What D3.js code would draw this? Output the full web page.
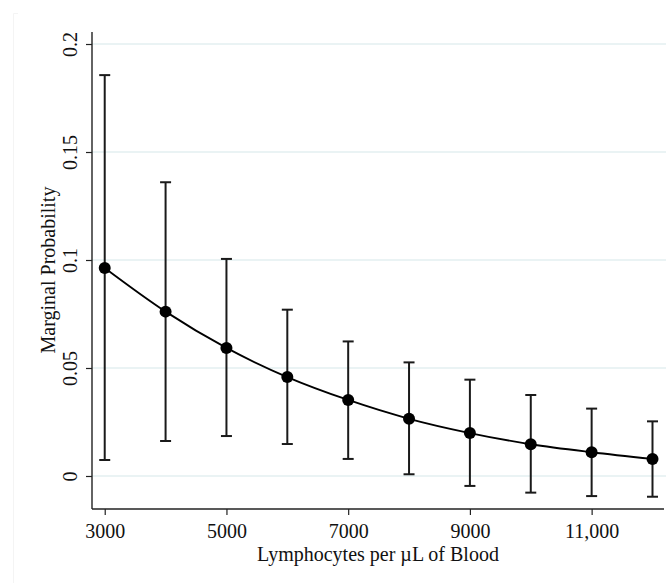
<!DOCTYPE html>
<html><head><meta charset="utf-8">
<script src="https://cdn.jsdelivr.net/npm/d3@7"></script>
<style>html,body{margin:0;padding:0;background:#fff;}svg{display:block;}</style>
</head><body>
<svg id="chart" width="671" height="583"></svg>
<script>
const lymphocytes = [3000, 4000, 5000, 6000, 7000, 8000, 9000, 10000, 11000, 12000];
const probability = [0.0963, 0.0761, 0.0593, 0.0458, 0.0352, 0.0265, 0.0199, 0.0147, 0.0110, 0.0079];
const upperCI = [0.1856, 0.1360, 0.1005, 0.0770, 0.0623, 0.0526, 0.0446, 0.0375, 0.0312, 0.0253];
const lowerCI = [0.0074, 0.0162, 0.0185, 0.0148, 0.0079, 0.0008, -0.0046, -0.0077, -0.0093, -0.0096];
const xTicks = [3000, 5000, 7000, 9000, 11000];
const xTickLabels = ["3000", "5000", "7000", "9000", "11,000"];
const yTicks = [0, 0.05, 0.1, 0.15, 0.2];
const yTickLabels = ["0", "0.05", "0.1", "0.15", "0.2"];
const xTitle = "Lymphocytes per \u00B5L of Blood";
const yTitle = "Marginal Probability";

const svg = d3.select("#chart");
const font = "'Liberation Serif', 'Times New Roman', serif";
const fs = 20;
const L = 92, R = 664, T = 32, B = 509;

const x = d3.scaleLinear().domain([2791, 12189]).range([L, R]);
const y = d3.scaleLinear().domain([-0.01528, 0.20556]).range([B, T]);

// faint outer frame
svg.append("path").attr("d", `M13.5,583 V13.5 H18`).attr("fill", "none").attr("stroke", "#f4f4f4").attr("stroke-width", 1);

// gridlines
svg.append("g").selectAll("line").data(yTicks).join("line")
  .attr("x1", L).attr("x2", 666)
  .attr("y1", d => y(d)).attr("y2", d => y(d))
  .attr("stroke", "#e3eff1").attr("stroke-width", 1.3);

// y axis
const yAxis = d3.axisLeft(y).tickValues(yTicks).tickFormat((d, i) => yTickLabels[i]).tickSize(6).tickPadding(4);
const gy = svg.append("g").attr("transform", `translate(${L},0)`).call(yAxis);
gy.select(".domain").attr("d", `M0,${T}V${B}`).attr("stroke", "#222").attr("stroke-width", 1.4);
gy.selectAll(".tick line").attr("stroke", "#222").attr("stroke-width", 1.2);
gy.selectAll(".tick text")
  .attr("font-family", font).attr("font-size", fs).attr("fill", "#111")
  .attr("text-anchor", "middle").attr("x", null).attr("dy", null)
  .attr("transform", "translate(-22,0) rotate(-90)")
  .attr("dominant-baseline", "central");

// x axis
const xAxis = d3.axisBottom(x).tickValues(xTicks).tickFormat((d, i) => xTickLabels[i]).tickSize(6);
const gx = svg.append("g").attr("transform", `translate(0,${B})`).call(xAxis);
gx.select(".domain").attr("d", `M${L},0H${R}`).attr("stroke", "#222").attr("stroke-width", 1.4);
gx.selectAll(".tick line").attr("stroke", "#222").attr("stroke-width", 1.2);
gx.selectAll(".tick text").attr("font-family", font).attr("font-size", fs).attr("fill", "#111")
  .attr("dy", null).attr("y", 29);

// titles
svg.append("text").attr("x", 378).attr("y", 561).attr("text-anchor", "middle")
  .attr("font-family", font).attr("font-size", fs).attr("fill", "#111").text(xTitle);
svg.append("text").attr("transform", `translate(55,270) rotate(-90)`).attr("text-anchor", "middle")
  .attr("font-family", font).attr("font-size", fs).attr("fill", "#111").text(yTitle);

const data = lymphocytes.map((v, i) => ({x: v, p: probability[i], lo: lowerCI[i], hi: upperCI[i]}));

// error bars
const eb = svg.append("g").attr("stroke", "#1a1a1a").attr("stroke-width", 2);
eb.selectAll("line.v").data(data).join("line").attr("class", "v")
  .attr("x1", d => x(d.x)).attr("x2", d => x(d.x)).attr("y1", d => y(d.lo)).attr("y2", d => y(d.hi));
eb.selectAll("line.h").data(data).join("line").attr("class", "h")
  .attr("x1", d => x(d.x) - 5.5).attr("x2", d => x(d.x) + 5.5).attr("y1", d => y(d.hi)).attr("y2", d => y(d.hi));
eb.selectAll("line.l").data(data).join("line").attr("class", "l")
  .attr("x1", d => x(d.x) - 5.5).attr("x2", d => x(d.x) + 5.5).attr("y1", d => y(d.lo)).attr("y2", d => y(d.lo));

// line
const line = d3.line().x(d => x(d.x)).y(d => y(d.p)).curve(d3.curveMonotoneX);
svg.append("path").datum(data).attr("d", line).attr("fill", "none").attr("stroke", "#000").attr("stroke-width", 1.8);

// points
svg.append("g").selectAll("circle").data(data).join("circle")
  .attr("cx", d => x(d.x)).attr("cy", d => y(d.p)).attr("r", 6).attr("fill", "#000");
</script>
</body></html>
